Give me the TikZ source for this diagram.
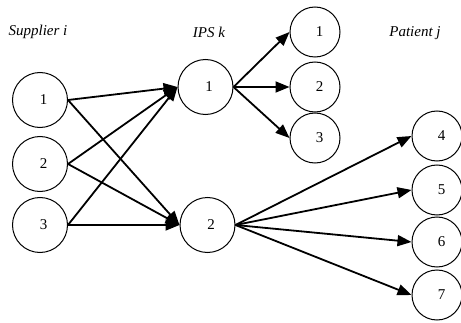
\documentclass[tikz,border=0pt]{standalone}
\usepackage{fontspec}
\setmainfont{Liberation Serif}
\usetikzlibrary{arrows.meta}

\begin{document}
\begin{tikzpicture}[x=1pt, y=1pt,
    facility/.style={draw, circle, line width=1pt, minimum size=55pt, inner sep=0pt,
        execute at begin node=\hspace*{7pt}},
    patient/.style={draw, circle, line width=1pt, minimum size=50pt, inner sep=0pt,
        execute at begin node=\hspace*{9pt}},
    >={Triangle[length=14pt, width=11pt]},
    font=\fontsize{15}{17}\selectfont]
    \useasboundingbox (0, 0) rectangle (461, 322);
    \node (suplabel) at (38, 290) {\textit{Supplier i}};
    \node (ipslabel) at (209, 290) {\textit{IPS k}};
    \node (patlabel) at (415, 289) {\textit{Patient j}};
    \node[facility] (s1) at (40, 222) {1};
    \node[facility] (s2) at (40, 158) {2};
    \node[facility] (s3) at (40, 97) {3};
    \node[facility] (k1) at (205.5, 235) {1};
    \node[facility] (k2) at (207.5, 97) {2};
    \node[patient] (p1) at (315, 290) {1};
    \node[patient] (p2) at (315, 235) {2};
    \node[patient] (p3) at (315, 184) {3};
    \node[patient] (p4) at (437, 186) {4};
    \node[patient] (p5) at (437, 132) {5};
    \node[patient] (p6) at (437, 80) {6};
    \node[patient] (p7) at (437, 27) {7};
    \draw[line width=1.8pt]
    (s1.east) edge[->] (k1.west)
    (s1.east) edge[->] (k2.west)
    (s2.east) edge[->] (k1.west)
    (s2.east) edge[->] (k2.west)
    (s3.east) edge[->] (k1.west)
    (s3.east) edge[->] (k2.west)
    (k1.east) edge[->] (p1.west)
    (k1.east) edge[->] (p2.west)
    (k1.east) edge[->] (p3.west)
    (k2.east) edge[->] (p4.west)
    (k2.east) edge[->] (p5.west)
    (k2.east) edge[->] (p6.west)
    (k2.east) edge[->] (p7.west);
\end{tikzpicture}
\end{document}
